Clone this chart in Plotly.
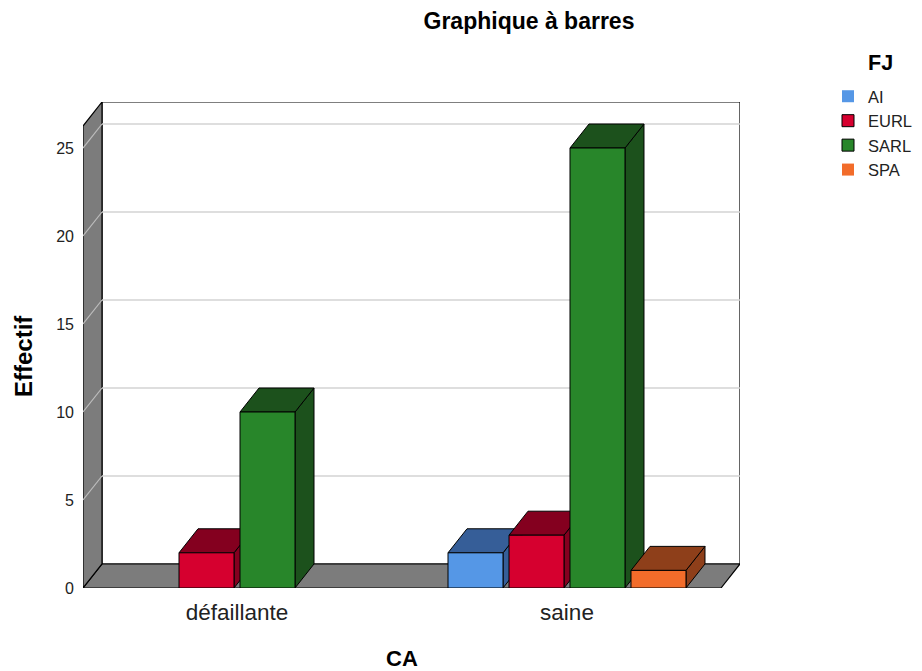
import plotly.graph_objects as go

# ---- data ----
categories = ["défaillante", "saine"]
series_names = ["AI", "EURL", "SARL", "SPA"]
ai_counts = [0, 2]
eurl_counts = [2, 3]
sarl_counts = [10, 25]
spa_counts = [0, 1]

front_colors = ["#5597e6", "#d6002f", "#28862a", "#f26c2a"]
shade_colors = ["#365e98", "#84001f", "#1c511c", "#8e3f1a"]

# ---- geometry of the pseudo-3D box (axis units) ----
X_LEFT = -0.4667          # front-left edge of the floor
X_RIGHT = 1.4667          # front-right edge of the floor
DX = 19 / 330             # depth offset along x
DY = 1.364                # depth offset along y
Y_BACK_TOP = 26.25        # height of the back wall
SLOT = 61 / 330           # width reserved per series inside a group
BAR_W = 55 / 330          # drawn bar width

FONT = "Liberation Sans, Arial, sans-serif"
W, H = 922, 671

values = [ai_counts, eurl_counts, sarl_counts, spa_counts]
xpos = list(range(len(categories)))

fig = go.Figure()
shapes = []


def poly(points, fill, line="#000000", width=1):
    path = "M " + " L ".join(f"{x},{y}" for x, y in points) + " Z"
    return dict(type="path", path=path, xref="x", yref="y", fillcolor=fill,
                line=dict(color=line, width=width), layer="below")


def seg(x0, y0, x1, y1, color, width=1.5):
    return dict(type="line", x0=x0, y0=y0, x1=x1, y1=y1, xref="x", yref="y",
                line=dict(color=color, width=width), layer="below")


# back wall
shapes.append(poly([(X_LEFT + DX, DY), (X_RIGHT + DX, DY),
                    (X_RIGHT + DX, Y_BACK_TOP + DY), (X_LEFT + DX, Y_BACK_TOP + DY)],
                   "#ffffff", "#000000", 1.2))
# floor
shapes.append(poly([(X_LEFT, 0), (X_RIGHT, 0), (X_RIGHT + DX, DY), (X_LEFT + DX, DY)],
                   "#7c7c7c", "#000000", 1.2))
# left wall
shapes.append(poly([(X_LEFT, 0), (X_LEFT + DX, DY), (X_LEFT + DX, Y_BACK_TOP + DY),
                    (X_LEFT, Y_BACK_TOP)], "#7c7c7c", "#000000", 1.2))
# grid lines on the back wall and the left wall
for v in [5, 10, 15, 20, 25]:
    shapes.append(seg(X_LEFT + DX, v + DY, X_RIGHT + DX, v + DY, "#d3d3d3", 1.5))
    shapes.append(seg(X_LEFT, v, X_LEFT + DX, v + DY, "#bdbdbd", 1.2))

# top and side faces of each bar
for i, vals in enumerate(values):
    off = (i - 2) * SLOT + (SLOT - BAR_W) / 2
    for xc, v in zip(xpos, vals):
        if not v:
            continue
        left = xc + off
        right = left + BAR_W
        shapes.append(poly([(right, 0), (right + DX, DY), (right + DX, v + DY), (right, v)],
                           shade_colors[i]))
        shapes.append(poly([(left, v), (right, v), (right + DX, v + DY), (left + DX, v + DY)],
                           shade_colors[i]))

# front faces as bar traces
for i, (name, vals) in enumerate(zip(series_names, values)):
    off = (i - 2) * SLOT + (SLOT - BAR_W) / 2
    fig.add_trace(go.Bar(
        x=xpos, y=vals, name=name,
        width=[BAR_W] * len(xpos), offset=[off] * len(xpos),
        marker=dict(color=front_colors[i],
                    line=dict(color="#000000", width=[1 if v else 0 for v in vals])),
    ))

annotations = [
    dict(text="<b>Effectif</b>", x=23 / W, y=1 - 356 / H, xref="paper", yref="paper",
         textangle=-90, showarrow=False, xanchor="center", yanchor="middle",
         font=dict(family=FONT, size=24, color="#000000")),
    dict(text="<b>CA</b>", x=402 / W, y=1 - 658 / H, xref="paper", yref="paper",
         showarrow=False, xanchor="center", yanchor="middle",
         font=dict(family=FONT, size=22, color="#000000")),
    dict(text="<b>FJ</b>", x=880 / W, y=1 - 63 / H, xref="paper", yref="paper",
         showarrow=False, xanchor="center", yanchor="middle",
         font=dict(family=FONT, size=21.5, color="#000000")),
]
# annotations above are given in page pixels; convert to paper coordinates
ML, MR, MT, MB = 83, 182, 102, 83
for a in annotations:
    px = a["x"] * W
    py = (1 - a["y"]) * H
    a["x"] = (px - ML) / (W - ML - MR)
    a["y"] = (H - MB - py) / (H - MT - MB)

fig.update_layout(
    width=W, height=H,
    margin=dict(l=ML, r=MR, t=MT, b=MB, autoexpand=False),
    barmode="overlay",
    plot_bgcolor="rgba(0,0,0,0)",
    paper_bgcolor="#ffffff",
    font=dict(family=FONT, color="#222222"),
    shapes=shapes,
    annotations=annotations,
    title=dict(text="<b>Graphique à barres</b>", x=529 / W, xanchor="center",
               y=1 - 21 / H, yanchor="middle", xref="container", yref="container",
               font=dict(family=FONT, size=23, color="#000000")),
    xaxis=dict(range=[X_LEFT, X_RIGHT + DX], tickvals=xpos, ticktext=categories,
               showgrid=False, zeroline=False, showline=False, ticks="",
               automargin=False, ticklabelstandoff=8,
               tickfont=dict(family=FONT, size=22.5, color="#222222")),
    yaxis=dict(range=[0, Y_BACK_TOP + DY], tickvals=[0, 5, 10, 15, 20, 25],
               showgrid=False, zeroline=False, showline=False, ticks="",
               automargin=False, ticklabelstandoff=8,
               tickfont=dict(family=FONT, size=16, color="#222222")),
    legend=dict(x=828 / W, y=1 - 79 / H, xref="container", yref="container",
                xanchor="left", yanchor="top", traceorder="normal",
                font=dict(family=FONT, size=16.5, color="#222222"),
                itemwidth=30, bgcolor="rgba(0,0,0,0)"),
    showlegend=True,
)

fig.write_html("out.html")
